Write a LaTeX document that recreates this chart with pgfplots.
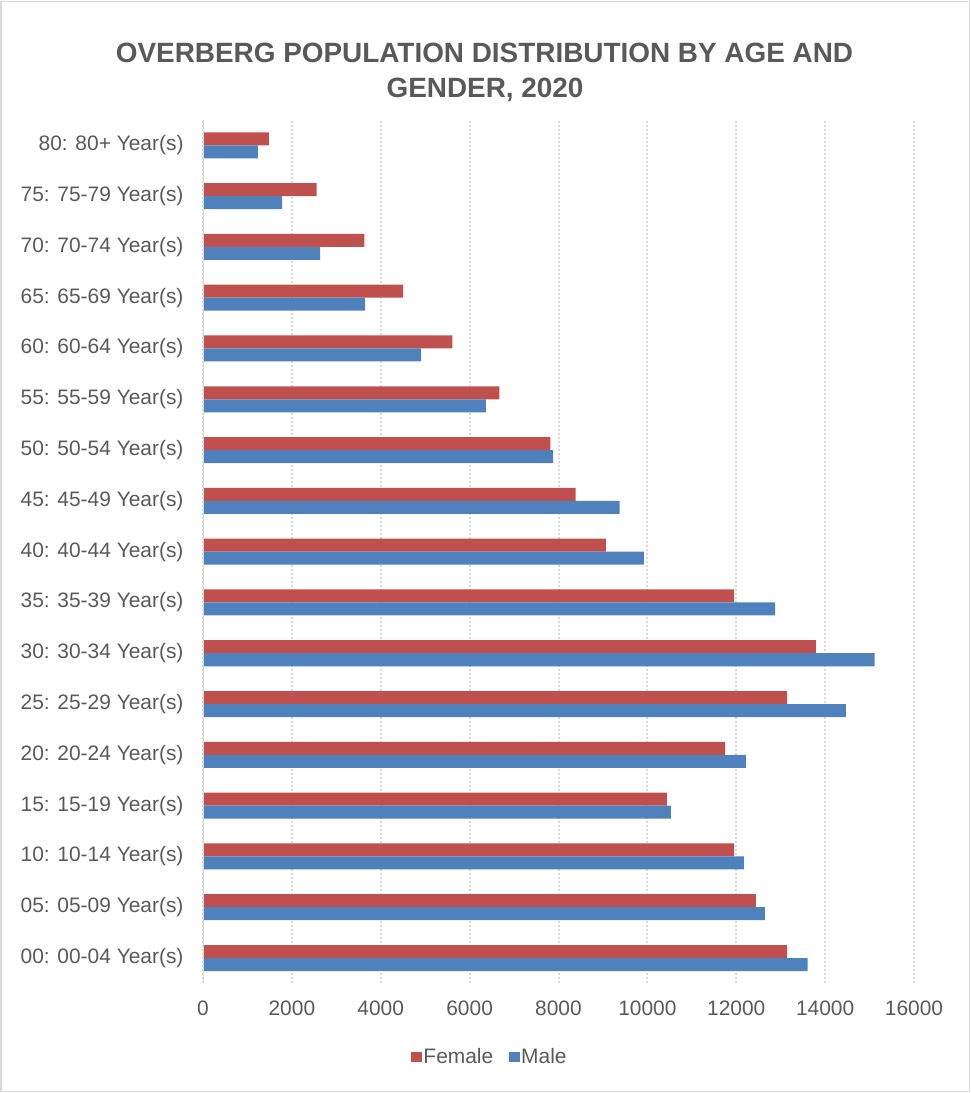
\documentclass[border=0pt]{standalone}
\usepackage{fontspec}
\setmainfont{Liberation Sans}
\usepackage{pgfplots}
\pgfplotsset{compat=1.18}
\definecolor{txt}{HTML}{595959}
\definecolor{fem}{HTML}{C0504D}
\definecolor{mal}{HTML}{4F81BD}
\definecolor{gridc}{HTML}{D9D9D9}
\begin{document}
\begin{tikzpicture}
\useasboundingbox (0bp,0bp) rectangle (971bp,-1093bp);
\draw[gridc, line width=1.2bp] (1bp,-1.5bp) rectangle (969.5bp,-1091.5bp);
\node[anchor=base, font=\bfseries\fontsize{28}{33}\selectfont, text=txt] at (484.5bp,-62bp) {OVERBERG POPULATION DISTRIBUTION BY AGE AND};
\node[anchor=base, font=\bfseries\fontsize{28}{33}\selectfont, text=txt] at (485bp,-97bp) {GENDER, 2020};
\begin{axis}[
  at={(203bp,-983.4bp)}, anchor=south west,
  scale only axis, width=711bp, height=863.5bp,
  xbar, bar width=0.256,
  xmin=0, xmax=16000, ymin=-0.5, ymax=16.5,
  xtick={0,2000,...,16000},
  ytick={0,...,16},
  yticklabels={00: 00-04 Year(s),05: 05-09 Year(s),10: 10-14 Year(s),15: 15-19 Year(s),20: 20-24 Year(s),25: 25-29 Year(s),30: 30-34 Year(s),35: 35-39 Year(s),40: 40-44 Year(s),45: 45-49 Year(s),50: 50-54 Year(s),55: 55-59 Year(s),60: 60-64 Year(s),65: 65-69 Year(s),70: 70-74 Year(s),75: 75-79 Year(s),80: 80+ Year(s)},
  scaled x ticks=false,
  /pgf/number format/assume math mode=true,
  /pgf/number format/1000 sep={},
  tick label style={font=\fontsize{21}{25}\selectfont, text=txt},
  xticklabel style={anchor=base, yshift=-32bp},
  yticklabel style={xshift=-16bp},
  major tick length=0pt,
  axis line style={draw=none},
  xmajorgrids=true, ymajorgrids=false,
  major grid style={gridc, line width=2bp, dash pattern=on 2bp off 2bp},
  legend style={at={(0.4037,-0.0853)}, anchor=center, draw=none, fill=none, legend columns=2, font=\fontsize{21}{25}\selectfont, text=txt, /tikz/every even column/.append style={column sep=14bp}, /tikz/every odd column/.append style={column sep=-1bp}},
  legend image code/.code={\fill[#1] (0bp,-5bp) rectangle (11bp,5bp);},
]
\addplot[fill=fem, draw=none, bar shift=0.128] coordinates {
(13145,0) (12440,1) (11950,2) (10440,3) (11747,4) (13145,5) (13792,6) (11950,7) (9064,8) (8388,9) (7817,10) (6667,11) (5614,12) (4503,13) (3630,14) (2557,15) (1481,16)};
\addlegendentry{Female}
\addplot[fill=mal, draw=none, bar shift=-0.128] coordinates {
(13605,0) (12642,1) (12169,2) (10530,3) (12214,4) (14469,5) (15116,6) (12875,7) (9921,8) (9373,9) (7878,10) (6367,11) (4909,12) (3646,13) (2638,14) (1781,15) (1233,16)};
\addlegendentry{Male}
\draw[gridc, line width=1.5bp] (rel axis cs:0,0) -- (rel axis cs:0,1);
\end{axis}
\end{tikzpicture}
\end{document}
